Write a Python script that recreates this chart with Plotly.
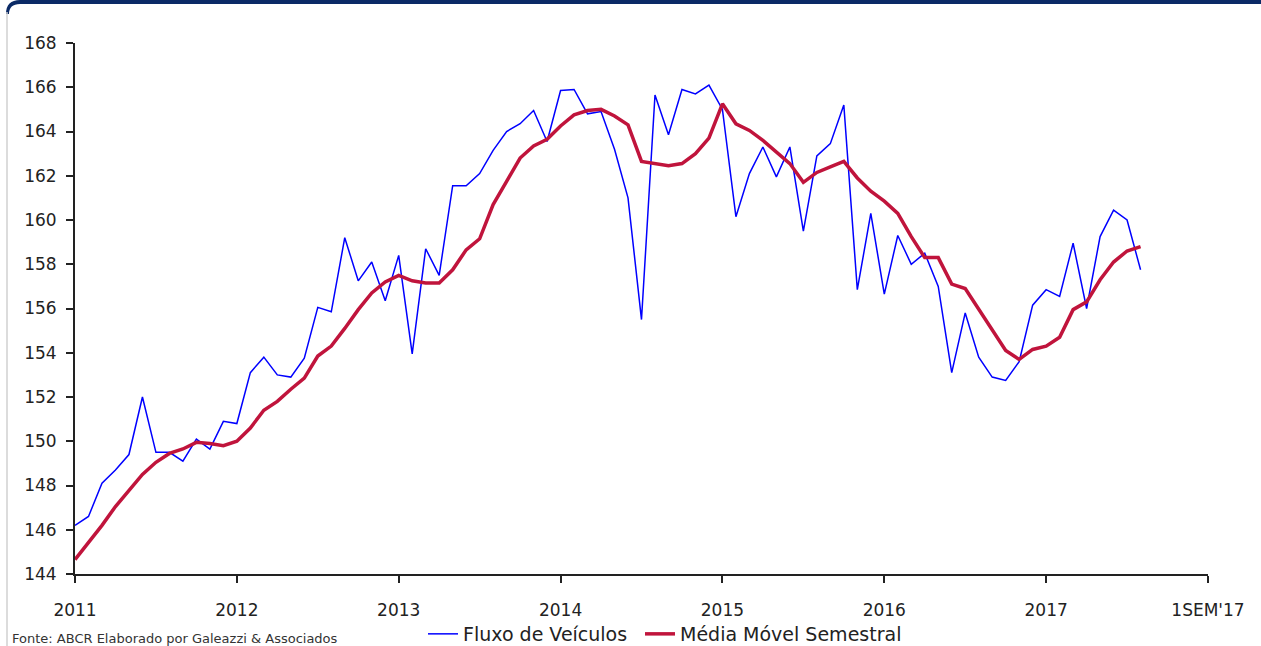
import plotly.graph_objects as go

# Monthly index starting Jan 2011
fluxo = [146.2, 146.6, 148.1, 148.7, 149.4, 152.0, 149.5, 149.5, 149.1, 150.1,
         149.65, 150.9, 150.8, 153.1, 153.8, 153.0, 152.9, 153.75, 156.05, 155.85,
         159.2, 157.25, 158.1, 156.35, 158.4, 153.95, 158.7, 157.5, 161.55, 161.55,
         162.1, 163.15, 164.0, 164.35, 164.95, 163.55, 165.85, 165.9, 164.8, 164.9,
         163.2, 161.0, 155.5, 165.65, 163.85, 165.9, 165.7, 166.1, 165.0, 160.15,
         162.1, 163.3, 161.95, 163.3, 159.5, 162.9, 163.45, 165.2, 156.85, 160.3,
         156.65, 159.3, 158.0, 158.5, 157.0, 153.1, 155.8, 153.8, 152.9, 152.75,
         153.6, 156.15, 156.85, 156.55, 158.95, 156.0, 159.25, 160.45, 160.0, 157.75]

media = [144.65, 145.4, 146.2, 147.05, 147.8, 148.5, 149.05, 149.45, 149.65, 149.95,
         149.9, 149.8, 150.0, 150.6, 151.4, 151.8, 152.35, 152.85, 153.85, 154.3,
         155.1, 155.95, 156.7, 157.2, 157.5, 157.25, 157.15, 157.15, 157.75, 158.65,
         159.15, 160.7, 161.75, 162.8, 163.35, 163.65, 164.25, 164.75, 164.95, 165.0,
         164.7, 164.3, 162.65, 162.55, 162.45, 162.55, 163.0, 163.7, 165.25, 164.35,
         164.05, 163.6, 163.05, 162.55, 161.7, 162.15, 162.4, 162.65, 161.9, 161.3,
         160.85, 160.3, 159.25, 158.3, 158.3, 157.1, 156.9, 155.95, 155.05, 154.1,
         153.7, 154.15, 154.3, 154.7, 155.95, 156.3, 157.3, 158.1, 158.6, 158.8]

meses = list(range(len(fluxo)))

x_tickvals = [0, 12, 24, 36, 48, 60, 72, 84]
x_ticktext = ["2011", "2012", "2013", "2014", "2015", "2016", "2017", "1SEM'17"]
y_tickvals = list(range(144, 169, 2))

W, H = 1261, 646
ML, MR, MT, MB = 75, 53, 43, 72
PW, PH = W - ML - MR, H - MT - MB


def px(xp):
    return (xp - ML) / PW


def py(yp):
    return (H - MB - yp) / PH


fig = go.Figure()
fig.add_trace(go.Scatter(x=meses, y=fluxo, mode="lines", name="Fluxo de Veículos",
                         line=dict(color="#0000ff", width=1.5), legend="legend"))
fig.add_trace(go.Scatter(x=meses, y=media, mode="lines", name="Média Móvel Semestral",
                         line=dict(color="#c0143c", width=3.5), legend="legend2"))

axis_font = dict(family="DejaVu Sans", size=17, color="#222")
legend_font = dict(family="DejaVu Sans", size=19, color="#222")

fig.update_layout(
    width=W, height=H,
    margin=dict(l=ML, r=MR, t=MT, b=MB, autoexpand=False),
    paper_bgcolor="white", plot_bgcolor="white",
    showlegend=True,
    legend=dict(orientation="h", x=px(423), xanchor="left", y=py(615), yanchor="top",
                font=legend_font, bgcolor="rgba(0,0,0,0)", itemwidth=30),
    legend2=dict(orientation="h", x=px(640), xanchor="left", y=py(615), yanchor="top",
                 font=legend_font, bgcolor="rgba(0,0,0,0)", itemwidth=30),
    xaxis=dict(range=[0, 84], tickmode="array", tickvals=x_tickvals, ticktext=x_ticktext,
               showgrid=False, zeroline=False, showline=True, linecolor="#222", linewidth=2,
               ticks="outside", ticklen=7, tickwidth=1.5, tickcolor="#222",
               tickfont=axis_font, ticklabelstandoff=13),
    yaxis=dict(range=[144, 168], tickmode="array", tickvals=y_tickvals,
               showgrid=False, zeroline=False, showline=True, linecolor="#222", linewidth=2,
               ticks="outside", ticklen=7, tickwidth=1.5, tickcolor="#222",
               tickfont=axis_font, ticklabelstandoff=6),
    shapes=[
        dict(type="path", xref="paper", yref="paper",
             path=f"M {px(6)} {py(14)} Q {px(6)} {py(0)} {px(20)} {py(0)} L {px(1261)} {py(0)} L {px(1261)} {py(4)} L {px(20)} {py(4)} Q {px(9)} {py(4)} {px(9)} {py(14)} Z",
             fillcolor="#0b2a66", line=dict(width=0)),
        dict(type="line", xref="paper", yref="paper",
             x0=px(7), x1=px(7), y0=py(12), y1=py(646),
             line=dict(color="#d0d0d0", width=1.5)),
    ],
    annotations=[
        dict(text="Fonte: ABCR Elaborado por Galeazzi & Associados", xref="paper", yref="paper",
             x=px(10), y=py(638), xanchor="left", yanchor="middle", showarrow=False,
             font=dict(family="DejaVu Sans", size=13, color="#333")),
    ],
)

fig.write_html("out.html", config={"displayModeBar": False},
               post_script="document.body.style.margin='0';document.body.style.overflow='hidden';")
